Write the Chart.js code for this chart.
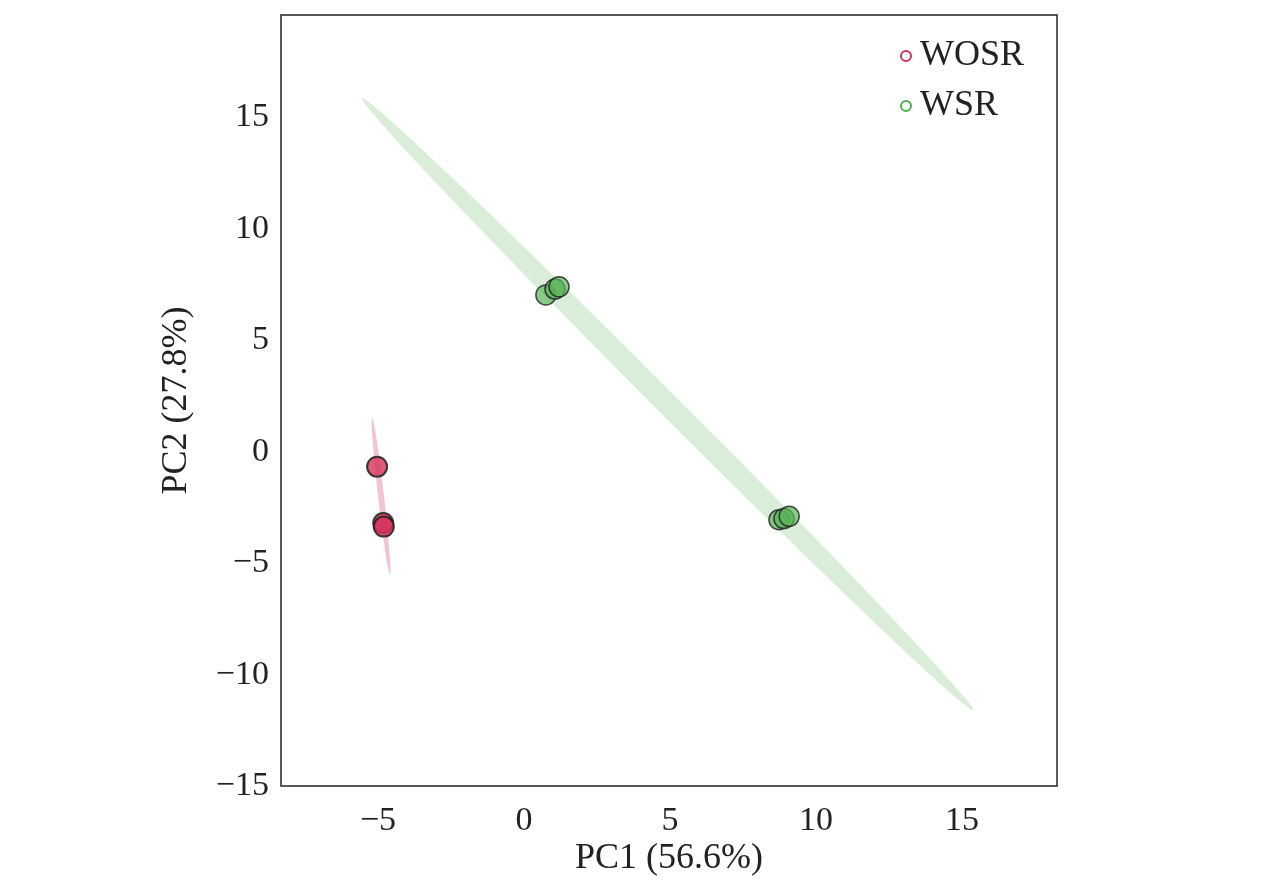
<!DOCTYPE html>
<html><head><meta charset="utf-8">
<script src="https://cdn.jsdelivr.net/npm/chart.js@4"></script>
<style>html,body{margin:0;background:#fff}#wrap{width:1276px;height:890px}</style>
</head><body><div id="wrap"><canvas id="c"></canvas></div>
<script>
// Scores
const wosrX = [-5.03, -4.82, -4.8];
const wosrY = [-0.67, -3.2, -3.36];
const wsrX = [0.75, 1.06, 1.2, 8.73, 8.9, 9.08];
const wsrY = [7.04, 7.3, 7.4, -3.05, -3.0, -2.9];
// Confidence ellipse: major-axis endpoints (data units) and half width (px)
const wosrEllipse = [[-5.2, 1.52], [-4.59, -5.5], 3];
const wsrEllipse = [[-5.55, 15.87], [15.38, -11.6], 11];
const xTicks = [-5, 0, 5, 10, 15];
const yTicks = [-15, -10, -5, 0, 5, 10, 15];
const seriesNames = ['WOSR', 'WSR'];

const FONT = '"Liberation Serif", "DejaVu Serif", serif';
const toPts = (xs, ys) => xs.map((x, i) => ({x: x, y: ys[i]}));

const ellipses = {
    id: 'ellipses',
    beforeDatasetsDraw(chart) {
        const {ctx, scales: {x, y}} = chart;
        [[wosrEllipse, 'rgba(232,150,180,0.55)'], [wsrEllipse, 'rgba(170,215,170,0.45)']].forEach(([e, col]) => {
            const x1 = x.getPixelForValue(e[0][0]), y1 = y.getPixelForValue(e[0][1]);
            const x2 = x.getPixelForValue(e[1][0]), y2 = y.getPixelForValue(e[1][1]);
            ctx.save();
            ctx.fillStyle = col;
            ctx.beginPath();
            ctx.ellipse((x1 + x2) / 2, (y1 + y2) / 2, Math.hypot(x2 - x1, y2 - y1) / 2, e[2], Math.atan2(y2 - y1, x2 - x1), 0, Math.PI * 2);
            ctx.fill();
            ctx.restore();
        });
    },
    afterDraw(chart) {
        const {ctx, chartArea: a} = chart;
        ctx.save();
        ctx.strokeStyle = '#222';
        ctx.lineWidth = 1.5;
        ctx.strokeRect(a.left, a.top, a.right - a.left, a.bottom - a.top);
        // legend
        const cols = ['#c8375a', '#4caf50'];
        ctx.font = '36px ' + FONT;
        ctx.textBaseline = 'middle';
        seriesNames.forEach((n, i) => {
            const yy = 56 + i * 50;
            ctx.strokeStyle = cols[i];
            ctx.lineWidth = 2;
            ctx.beginPath();
            ctx.arc(906, yy, 5, 0, Math.PI * 2);
            ctx.stroke();
            ctx.fillStyle = '#222';
            ctx.fillText(n, 920, yy);
        });
        ctx.restore();
    }
};

const minus = v => String(v).replace('-', '\u2212');

new Chart(document.getElementById('c'), {
    type: 'scatter',
    data: {
        datasets: [{
            label: seriesNames[0],
            data: toPts(wosrX, wosrY),
            backgroundColor: 'rgba(214,50,90,0.8)',
            borderColor: 'rgba(30,30,30,0.85)',
            borderWidth: 2,
            pointRadius: 10
        }, {
            label: seriesNames[1],
            data: toPts(wsrX, wsrY),
            backgroundColor: 'rgba(90,180,90,0.7)',
            borderColor: 'rgba(30,30,30,0.8)',
            borderWidth: 1.5,
            pointRadius: 10
        }]
    },
    options: {
        responsive: true,
        maintainAspectRatio: false,
        animation: false,
        layout: {padding: {left: 155, right: 219, top: 15, bottom: 10}},
        plugins: {legend: {display: false}, tooltip: {enabled: false}},
        scales: {
            x: {
                min: -8.32, max: 18.25,
                afterBuildTicks: s => { s.ticks = xTicks.map(v => ({value: v})); },
                afterFit: s => { s.height = 94; s.paddingLeft = 0; s.paddingRight = 0; },
                grid: {drawOnChartArea: false, tickLength: 0},
                border: {display: false},
                ticks: {color: '#222', font: {family: FONT, size: 34}, padding: 15, callback: minus},
                title: {display: true, text: 'PC1 (56.6%)', color: '#222', font: {family: FONT, size: 36}, padding: 0}
            },
            y: {
                min: -15, max: 19.6,
                afterBuildTicks: s => { s.ticks = yTicks.map(v => ({value: v})); },
                afterFit: s => { s.width = 126; s.paddingTop = 0; s.paddingBottom = 0; },
                grid: {drawOnChartArea: false, tickLength: 0},
                border: {display: false},
                ticks: {color: '#222', font: {family: FONT, size: 34}, padding: 12, callback: minus},
                title: {display: true, text: 'PC2 (27.8%)', color: '#222', font: {family: FONT, size: 36}, padding: 0}
            }
        }
    },
    plugins: [ellipses]
});
</script></body></html>
